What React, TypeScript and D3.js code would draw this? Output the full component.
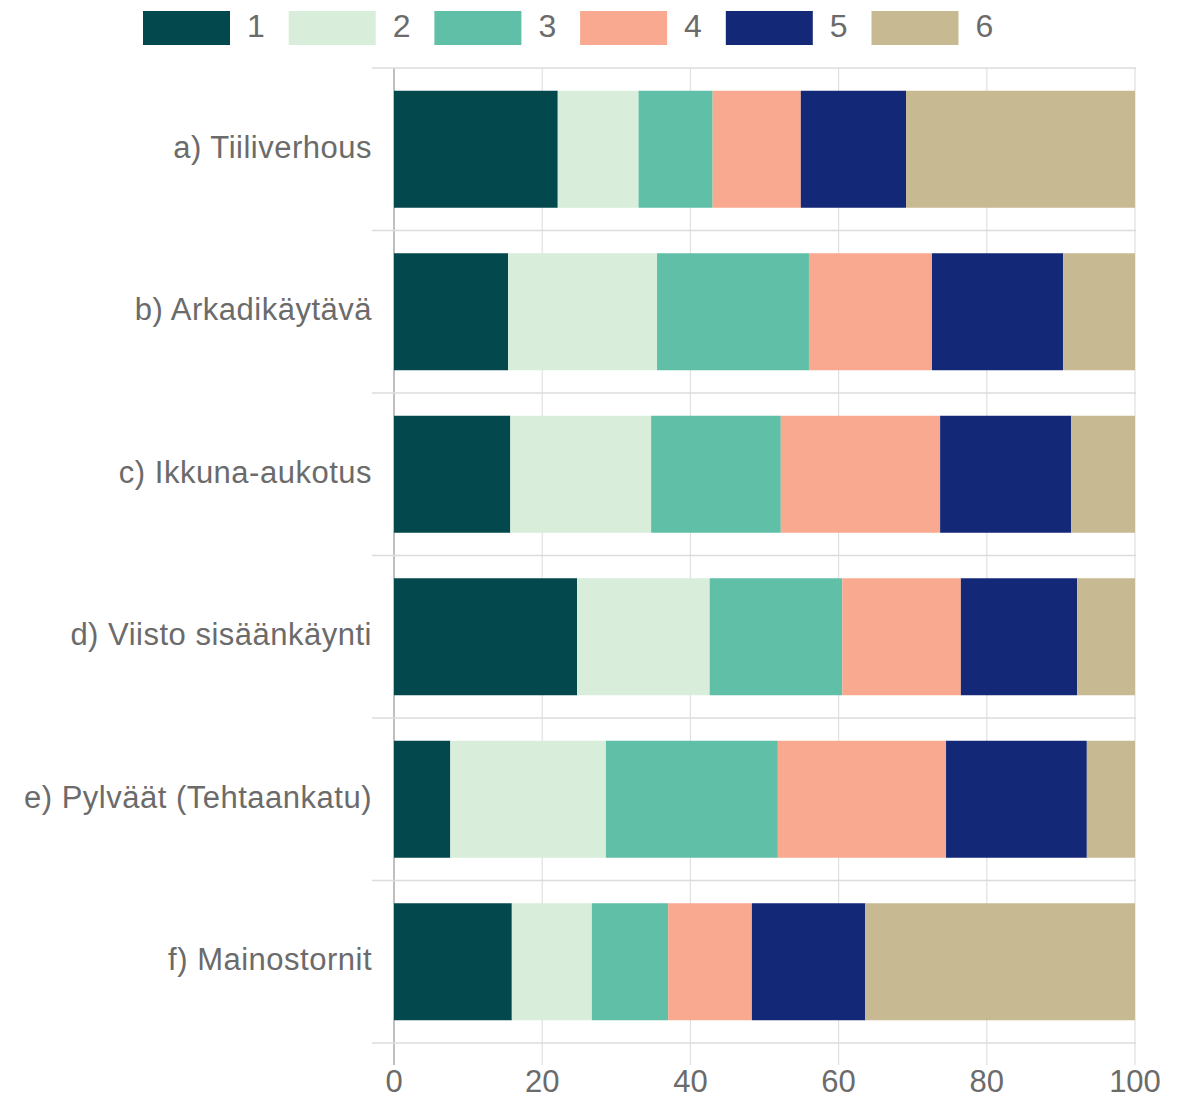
import { useMemo } from "react";
import * as d3 from "d3";

const categories = [
  "a) Tiiliverhous",
  "b) Arkadikäytävä",
  "c) Ikkuna-aukotus",
  "d) Viisto sisäänkäynti",
  "e) Pylväät (Tehtaankatu)",
  "f) Mainostornit",
];

const seriesNames = ["1", "2", "3", "4", "5", "6"];

// one array per series, values per category (percent)
const s1 = [22.1, 15.4, 15.7, 24.7, 7.6, 15.9];
const s2 = [10.9, 20.1, 19.0, 17.9, 21.0, 10.8];
const s3 = [10.0, 20.5, 17.5, 17.9, 23.2, 10.3];
const s4 = [11.9, 16.6, 21.5, 16.0, 22.7, 11.3];
const s5 = [14.2, 17.7, 17.7, 15.7, 19.0, 15.3];
const s6 = [30.9, 9.7, 8.6, 7.8, 6.5, 36.4];

const colors = ["#03484c", "#d8eedb", "#60bfa7", "#f9a990", "#142878", "#c7b991"];

const xTicks = [0, 20, 40, 60, 80, 100];

const W = 1184;
const H = 1098;
const FONT = "'Liberation Sans', Arial, sans-serif";
const TEXT = "#6b6b6b";

export default function App() {
  const x = d3.scaleLinear().domain([0, 100]).range([394, 1135]);
  const y = d3
    .scaleBand<string>()
    .domain(categories)
    .range([68, 1043])
    .paddingInner(0.28)
    .paddingOuter(0.14);

  const stacked = useMemo(() => {
    const all = [s1, s2, s3, s4, s5, s6];
    const rows = categories.map((c, i) => {
      const row: Record<string, any> = { cat: c };
      seriesNames.forEach((s, k) => (row[s] = all[k][i]));
      return row;
    });
    return d3.stack<any>().keys(seriesNames)(rows);
  }, []);

  const step = y.step();
  const bandEdges = d3.range(categories.length + 1).map((i) => 68 + i * step);

  return (
    <svg
      width={W}
      height={H}
      style={{ position: "absolute", left: 0, top: 0, background: "#fff" }}
      fontFamily={FONT}
    >
      {/* legend */}
      {seriesNames.map((s, i) => {
        const lx = 143 + i * 145.7;
        return (
          <g key={s}>
            <rect x={lx} y={11} width={87} height={34} fill={colors[i]} />
            <text x={lx + 104} y={37} fontSize={32} fill={TEXT}>
              {s}
            </text>
          </g>
        );
      })}

      {/* vertical grid */}
      {xTicks.map((t) => (
        <line
          key={t}
          x1={x(t)}
          x2={x(t)}
          y1={68}
          y2={1065}
          stroke={t === 0 ? "#aaa" : "#e0e0e0"}
          strokeWidth={t === 0 ? 1.5 : 1.2}
        />
      ))}

      {/* band separators */}
      {bandEdges.map((e, i) => (
        <line key={i} x1={372} x2={1136} y1={e} y2={e} stroke="#dcdcdc" strokeWidth={1.5} />
      ))}

      {/* bars */}
      {stacked.map((layer, k) =>
        layer.map((d, i) => (
          <rect
            key={`${k}-${i}`}
            x={x(d[0])}
            y={y(categories[i])}
            width={x(d[1]) - x(d[0])}
            height={y.bandwidth()}
            fill={colors[k]}
          />
        ))
      )}

      {/* category labels */}
      {categories.map((c) => (
        <text
          key={c}
          x={372}
          y={(y(c) ?? 0) + y.bandwidth() / 2 - 2}
          textAnchor="end"
          dominantBaseline="central"
          fontSize={31}
          letterSpacing={0.5}
          fill={TEXT}
        >
          {c}
        </text>
      ))}

      {/* x tick labels */}
      {xTicks.map((t) => (
        <text key={t} x={x(t)} y={1092} textAnchor="middle" fontSize={31} fill={TEXT}>
          {t}
        </text>
      ))}
    </svg>
  );
}
